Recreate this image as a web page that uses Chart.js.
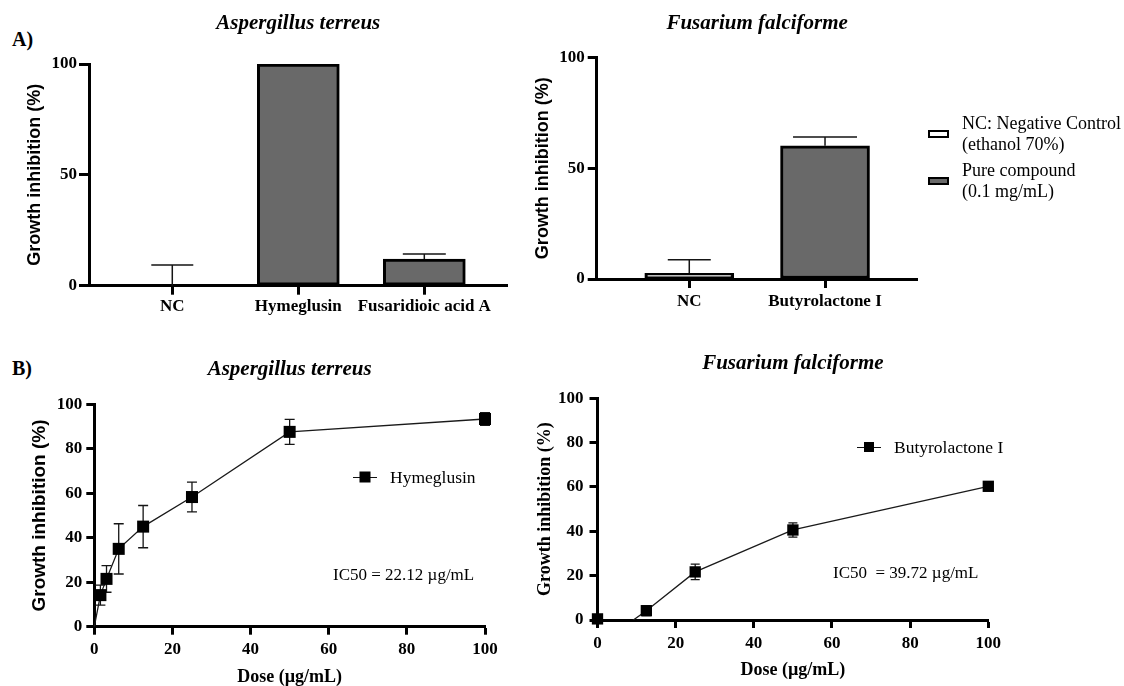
<!DOCTYPE html>
<html lang="en">
<head>
<meta charset="utf-8">
<title>Growth inhibition | Aspergillus terreus / Fusarium falciforme</title>
<script src="https://cdn.jsdelivr.net/npm/chart.js@4.4.1/dist/chart.umd.min.js"></script>
<style>
  html, body { margin: 0; padding: 0; background: #fff; overflow: hidden; }
  #fig { position: relative; width: 1124px; height: 686px; font-family: 'Liberation Serif', 'Times New Roman', serif; color: #000; }
  .panel { position: absolute; }
  .tag { position: absolute; left: 12px; font-weight: bold; font-size: 20px; line-height: 24px; }
  .note { position: absolute; font-size: 17px; line-height: 20px; white-space: pre; }
  .legend { position: absolute; }
  .legend .item { display: flex; align-items: center; }
  .legend .txt { white-space: pre-line; }
  .box-legend { font-size: 18px; line-height: 21px; }
  .box-legend .item { margin-bottom: 5px; }
  .box-legend .box { width: 17px; height: 4px; border: 2.5px solid #000; margin-right: 13px; flex: none; }
  .mark-legend { font-size: 17.5px; line-height: 20px; }
  .mark-legend .mark { position: relative; width: 24px; height: 12px; margin-right: 13px; flex: none; }
  .mark-legend .mark::before { content: ''; position: absolute; left: 0; right: 0; top: 5.5px; height: 1.3px; background: #111; }
  .mark-legend .mark i { position: absolute; left: 50%; top: 50%; background: #000; transform: translate(-50%, -50%); }
</style>
</head>
<body>
<div id="fig">
  <div class="tag" style="top:27px">A)</div>
  <div class="tag" style="top:356px">B)</div>

  <div class="panel" style="left:0;top:0"><canvas id="terreusBar" width="512" height="330"></canvas></div>
  <div class="panel" style="left:500px;top:0"><canvas id="falciBar" width="430" height="330"></canvas></div>
  <div class="panel" style="left:0;top:330px"><canvas id="terreusDose" width="520" height="356"></canvas></div>
  <div class="panel" style="left:510px;top:330px"><canvas id="falciDose" width="510" height="356"></canvas></div>

  <div id="legendA" class="legend box-legend" style="left:928px;top:112.5px"></div>
  <div id="legendB1" class="legend mark-legend" style="left:353px;top:467px"></div>
  <div id="legendB2" class="legend mark-legend" style="left:857px;top:437px"></div>

  <div class="note" style="left:333px;top:565px">IC50 = 22.12 µg/mL</div>
  <div class="note" style="left:833px;top:563px">IC50  = 39.72 µg/mL</div>
</div>

<script>
  const SERIF = "'Liberation Serif', 'Times New Roman', serif";
  const SANS = "'Liberation Sans', Arial, sans-serif";
  const BAR_GREY = '#696969';

  // A) single concentration screen, growth inhibition (%)
  const terreusCats = ['NC', 'Hymeglusin', 'Fusaridioic acid A'];
  const terreusInhib = [0, 100, 12.0];
  const terreusErr = [9.3, 0, 2.3];

  const falciCats = ['NC', 'Butyrolactone I'];
  const falciInhib = [2.6, 60.1];
  const falciErr = [6.1, 3.9];

  const groupLabels = ['NC: Negative Control\n(ethanol 70%)', 'Pure compound\n(0.1 mg/mL)'];
  const barTicks = [0, 50, 100];

  // B) dose-response, dose in µg/mL
  const hymDose = [0, 1.5625, 3.125, 6.25, 12.5, 25, 50, 100];
  const hymInhib = [0, 14.2, 21.5, 35.0, 45.0, 58.3, 87.6, 93.4];
  const hymSd = [null, 4.5, 6.0, 11.3, 9.5, 6.7, 5.6, 2.9];

  const butDose = [0, 6.25, 12.5, 25, 50, 100];
  const butInhib = [0.5, -3.7, 4.2, 21.7, 40.6, 60.3];
  const butSd = [0.8, null, 2.2, 3.5, 3.2, 1.0];

  const doseTicks = [0, 20, 40, 60, 80, 100];
  const inhibTicks = [0, 20, 40, 60, 80, 100];

  Chart.defaults.color = '#000';

  // draws mean +/- sd whiskers for any dataset that carries errorBars
  const errorBarPlugin = {
    id: 'errorBars',
    beforeDatasetsDraw(chart) {
      const ctx = chart.ctx;
      const y = chart.scales.y;
      chart.data.datasets.forEach((ds, di) => {
        if (!ds.errorBars) return;
        const meta = chart.getDatasetMeta(di);
        ctx.save();
        ctx.strokeStyle = '#151515';
        ctx.lineWidth = ds.errorWidth || 1.4;
        meta.data.forEach((el, i) => {
          const err = ds.errorBars[i];
          if (!err) return;
          const v = ds.data[i].y;
          const top = y.getPixelForValue(v + err);
          const bot = ds.errorDir === 'up' ? y.getPixelForValue(v) : y.getPixelForValue(v - err);
          const cap = Array.isArray(ds.errorCap) ? ds.errorCap[i] : ds.errorCap;
          ctx.beginPath();
          ctx.moveTo(el.x, bot);
          ctx.lineTo(el.x, top);
          ctx.moveTo(el.x - cap / 2, top);
          ctx.lineTo(el.x + cap / 2, top);
          if (ds.errorDir !== 'up') {
            ctx.moveTo(el.x - cap / 2, bot);
            ctx.lineTo(el.x + cap / 2, bot);
          }
          ctx.stroke();
        });
        ctx.restore();
      });
    }
  };

  function axisLines(tickLength) {
    return {
      offset: false,
      grid: { offset: false, drawOnChartArea: false, drawTicks: true, tickLength: tickLength, tickWidth: 3, tickColor: '#000' },
      border: { display: true, width: 3, color: '#000' }
    };
  }

  const tickFont = { family: SERIF, size: 17, weight: 'bold' };
  const titleFont = { family: SERIF, size: 21, weight: 'bold', style: 'italic' };

  function barChart(id, cfg) {
    const datasets = [
      {
        label: groupLabels[0],
        data: [{ x: 0, y: cfg.values[0] }],
        backgroundColor: '#ffffff',
        errorBars: [cfg.errors[0]],
        errorCap: cfg.caps[0]
      },
      {
        label: groupLabels[1],
        data: cfg.values.slice(1).map((v, i) => ({ x: i + 1, y: v })),
        backgroundColor: BAR_GREY,
        errorBars: cfg.errors.slice(1),
        errorCap: cfg.caps.slice(1)
      }
    ];
    datasets.forEach(ds => {
      Object.assign(ds, { borderColor: '#000', borderWidth: 3, borderSkipped: false, barThickness: cfg.barWidth, grouped: false, errorDir: 'up', errorWidth: 1.5 });
    });

    return new Chart(id, {
      type: 'bar',
      data: { datasets: datasets },
      plugins: [errorBarPlugin],
      options: {
        responsive: false,
        animation: false,
        events: [],
        layout: { padding: { right: cfg.padRight } },
        plugins: {
          legend: { display: false },
          tooltip: { enabled: false },
          title: { display: true, text: cfg.title, fullSize: false, font: titleFont, padding: cfg.titlePad }
        },
        scales: {
          x: Object.assign({
            type: 'linear',
            min: cfg.xRange[0],
            max: cfg.xRange[1],
            afterBuildTicks: s => { s.ticks = cfg.cats.map((c, i) => ({ value: i })); },
            afterFit: s => { s.height = cfg.xHeight; },
            ticks: { callback: v => cfg.cats[v], font: tickFont, padding: cfg.xTickPad, maxRotation: 0, autoSkip: false }
          }, axisLines(9)),
          y: Object.assign({
            min: 0,
            max: 100,
            afterBuildTicks: s => { s.ticks = barTicks.map(v => ({ value: v })); },
            afterFit: s => { s.width = cfg.yWidth; },
            ticks: { font: tickFont, padding: cfg.yTickPad },
            title: { display: true, text: 'Growth inhibition (%)', font: { family: SANS, size: 18, weight: 'bold' }, padding: { top: cfg.yTitlePad, bottom: 0 } }
          }, axisLines(cfg.yTickLen))
        }
      }
    });
  }

  function doseChart(id, cfg) {
    const line = cfg.dose.map((d, i) => ({ x: d, y: cfg.inhib[i] }));
    const marks = [];
    const errs = [];
    cfg.dose.forEach((d, i) => {
      if (cfg.sd[i] !== null) {
        marks.push({ x: d, y: cfg.inhib[i] });
        errs.push(cfg.sd[i]);
      }
    });

    return new Chart(id, {
      type: 'line',
      data: {
        datasets: [
          {
            data: marks,
            showLine: false,
            pointStyle: 'rect',
            pointRadius: cfg.pointRadius,
            pointHoverRadius: cfg.pointRadius,
            pointBackgroundColor: '#000',
            pointBorderWidth: 0,
            clip: false,
            errorBars: errs,
            errorCap: cfg.cap,
            errorWidth: 1.3
          },
          {
            label: cfg.label,
            data: line,
            borderColor: '#1a1a1a',
            borderWidth: 1.3,
            pointRadius: 0,
            pointHoverRadius: 0,
            tension: 0,
            clip: { left: false, top: false, right: false, bottom: 0 }
          }
        ]
      },
      plugins: [errorBarPlugin],
      options: {
        responsive: false,
        animation: false,
        events: [],
        layout: { padding: { right: cfg.padRight } },
        plugins: {
          legend: { display: false },
          tooltip: { enabled: false },
          title: { display: true, text: cfg.title, fullSize: false, font: titleFont, padding: cfg.titlePad }
        },
        scales: {
          x: Object.assign({
            type: 'linear',
            min: 0,
            max: 100,
            afterBuildTicks: s => { s.ticks = doseTicks.map(v => ({ value: v })); },
            afterFit: s => { s.height = cfg.xHeight; },
            ticks: { font: tickFont, padding: cfg.xTickPad, maxRotation: 0 },
            title: { display: true, text: 'Dose (µg/mL)', font: { family: SERIF, size: 18, weight: 'bold', lineHeight: 1 }, padding: { top: 0, bottom: cfg.xTitlePad } }
          }, axisLines(8)),
          y: Object.assign({
            min: 0,
            max: 100,
            afterBuildTicks: s => { s.ticks = inhibTicks.map(v => ({ value: v })); },
            afterFit: s => { s.width = cfg.yWidth; },
            ticks: { font: tickFont, padding: cfg.yTickPad },
            title: { display: true, text: 'Growth inhibition (%)', font: cfg.yTitleFont, padding: { top: cfg.yTitlePad, bottom: 0 } }
          }, axisLines(8))
        }
      }
    });
  }

  function htmlLegend(chart, id, kind, markSize) {
    const holder = document.getElementById(id);
    chart.data.datasets.filter(ds => ds.label).forEach(ds => {
      const item = document.createElement('div');
      item.className = 'item';
      const icon = document.createElement('span');
      if (kind === 'box') {
        icon.className = 'box';
        icon.style.background = ds.backgroundColor;
      } else {
        icon.className = 'mark';
        const sq = document.createElement('i');
        sq.style.width = markSize + 'px';
        sq.style.height = markSize + 'px';
        icon.appendChild(sq);
      }
      const txt = document.createElement('span');
      txt.className = 'txt';
      txt.textContent = ds.label;
      item.append(icon, txt);
      holder.appendChild(item);
    });
  }

  const chartA1 = barChart('terreusBar', {
    title: 'Aspergillus terreus',
    cats: terreusCats, values: terreusInhib, errors: terreusErr, caps: [42, 0, 43],
    barWidth: 82, xRange: [-0.661, 2.661], padRight: 4.4,
    xHeight: 44.3, yWidth: 89, yTickLen: 10, yTickPad: 2, xTickPad: 2,
    titlePad: { top: 11.4, bottom: 27.4 }, yTitlePad: 24.2
  });

  const chartA2 = barChart('falciBar', {
    title: 'Fusarium falciforme',
    cats: falciCats, values: falciInhib, errors: falciErr, caps: [43, 64],
    barWidth: 89, xRange: [-0.682, 1.682], padRight: 12.4,
    xHeight: 51, yWidth: 96.7, yTickLen: 9, yTickPad: 3, xTickPad: 3.5,
    titlePad: { top: 10.7, bottom: 21.4 }, yTitlePad: 32.2
  });
  htmlLegend(chartA2, 'legendA', 'box');

  const chartB1 = doseChart('terreusDose', {
    title: 'Aspergillus terreus', label: 'Hymeglusin',
    dose: hymDose, inhib: hymInhib, sd: hymSd,
    pointRadius: 8.5, cap: 10, padRight: 35,
    xHeight: 59.3, yWidth: 94.3, yTickPad: 4, xTickPad: 5.1, xTitlePad: 0,
    titlePad: { top: 27.4, bottom: 21.7 },
    yTitleFont: { family: SANS, size: 19, weight: 'bold' }, yTitlePad: 27.9
  });
  htmlLegend(chartB1, 'legendB1', 'mark', 11);

  const chartB2 = doseChart('falciDose', {
    title: 'Fusarium falciforme', label: 'Butyrolactone I',
    dose: butDose, inhib: butInhib, sd: butSd,
    pointRadius: 8, cap: 9, padRight: 31.7,
    xHeight: 66, yWidth: 87.5, yTickPad: 6, xTickPad: 5.1, xTitlePad: 6.3,
    titlePad: { top: 20.7, bottom: 22.4 },
    yTitleFont: { family: SERIF, size: 18, weight: 'bold' }, yTitlePad: 24.2
  });
  htmlLegend(chartB2, 'legendB2', 'mark', 10);
</script>
</body>
</html>
